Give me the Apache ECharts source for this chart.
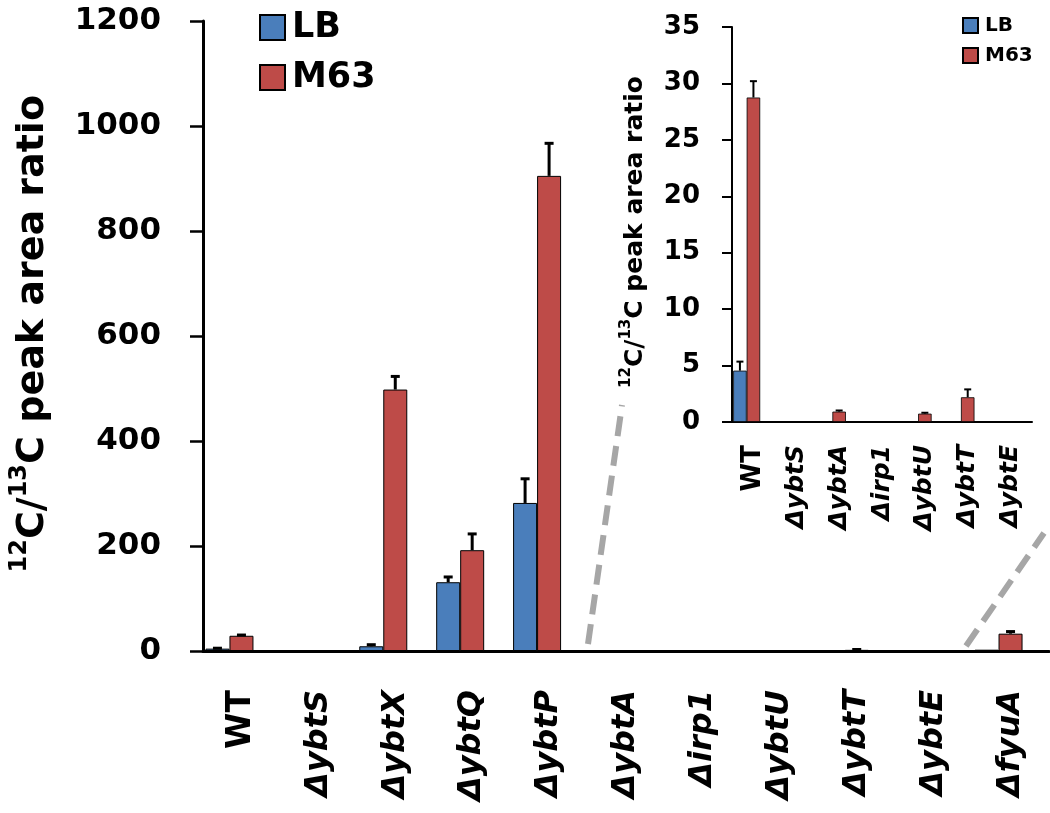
<!DOCTYPE html>
<html>
<head>
<meta charset="utf-8">
<script src="https://cdn.jsdelivr.net/npm/echarts@6/dist/echarts.min.js"></script>
<style>html,body{margin:0;padding:0;background:#fff}#c{width:1050px;height:813px}</style>
</head>
<body>
<div id="c"></div>
<script>
// ---- main chart data ----
const categories = ['WT','ΔybtS','ΔybtX','ΔybtQ','ΔybtP','ΔybtA','Δirp1','ΔybtU','ΔybtT','ΔybtE','ΔfyuA'];
const lbValues   = [4.5, 0, 9, 131, 282, 0, 0, 0, 0, 0, 2.5];
const lbErrors   = [0.8, 0, 3, 10, 46, 0, 0, 0, 0, 0, 0];
const m63Values  = [29, 0, 498, 192, 905, 0.9, 0, 0.7, 2.2, 0, 33];
const m63Errors  = [1.4, 0, 25, 31, 62, 0, 0, 0, 0.7, 0, 4];
const yTicks     = [0, 200, 400, 600, 800, 1000, 1200];

// ---- inset data ----
const insetCategories = ['WT','ΔybtS','ΔybtA','Δirp1','ΔybtU','ΔybtT','ΔybtE'];
const insetLbValues   = [4.55, 0, 0, 0, 0, 0, 0];
const insetLbErrors   = [0.8, 0, 0, 0, 0, 0, 0];
const insetM63Values  = [28.75, 0, 0.92, 0, 0.74, 2.19, 0];
const insetM63Errors  = [1.45, 0, 0.1, 0, 0.08, 0.7, 0];
const insetYTicks     = [0, 5, 10, 15, 20, 25, 30, 35];

const BLUE = '#4A7EBB', RED = '#BE4B48';
const FONT = 'DejaVu Sans';
const BW = 24, BW2 = 13.5;

function errData(vals, errs){ return vals.map((v,i)=>[i, v, errs[i]]); }
function errRender(offsetMul, bw, lw, capW){
  return function(params, api){
    const e = api.value(2);
    if (!e) return null;
    const i = api.value(0), v = api.value(1);
    const base = api.coord([i, v]);
    const top = api.coord([i, v + e]);
    const x = base[0] + offsetMul * bw;
    return {type:'group', children:[
      {type:'line', shape:{x1:x, y1:base[1], x2:x, y2:top[1]}, style:{stroke:'#000', lineWidth:lw}},
      {type:'line', shape:{x1:x-capW/2, y1:top[1], x2:x+capW/2, y2:top[1]}, style:{stroke:'#000', lineWidth:lw}}
    ]};
  };
}
function xLabelFmt(v){ return v === 'WT' ? '{n|WT}' : '{i|' + v + '}'; }
function yLabelFmt(v){ return String(v); }

const chart = echarts.init(document.getElementById('c'), null, {renderer:'canvas'});
const option = {
  animation:false,
  backgroundColor:'#fff',
  textStyle:{fontFamily:FONT},
  grid:[
    {left:203, top:21, right:1, bottom:162},
    {left:732, top:27, right:18, bottom:391}
  ],
  legend:[
    {data:['LB','M63'], orient:'vertical', left:254, top:5, itemWidth:25, itemHeight:25, itemGap:15,
     icon:'rect', selectedMode:false,
     textStyle:{fontFamily:FONT, fontWeight:'bold', fontSize:35, lineHeight:35, color:'#000', padding:[0,0,0,2]}},
    {data:['LB','M63'], orient:'vertical', left:957, top:10.5, itemWidth:15, itemHeight:15, itemGap:10,
     icon:'rect', selectedMode:false,
     textStyle:{fontFamily:FONT, fontWeight:'bold', fontSize:20, lineHeight:20, color:'#000', padding:[0,0,0,2]}}
  ],
  xAxis:[
    {type:'category', gridIndex:0, data:categories,
     axisLine:{lineStyle:{color:'#000', width:3}},
     axisTick:{length:14, lineStyle:{color:'#000', width:2.5}},
     axisLabel:{interval:0, rotate:90, margin:39, formatter:xLabelFmt, color:'#000',
       rich:{n:{fontFamily:FONT, fontWeight:'bold', fontSize:33, color:'#000'},
             i:{fontFamily:FONT, fontWeight:'bold', fontStyle:'italic', fontSize:32, color:'#000'}}}},
    {type:'category', gridIndex:1, data:insetCategories,
     axisLine:{lineStyle:{color:'#000', width:2}},
     axisTick:{length:10, lineStyle:{color:'#000', width:2}},
     axisLabel:{interval:0, rotate:90, margin:23, formatter:xLabelFmt, color:'#000',
       rich:{n:{fontFamily:FONT, fontWeight:'bold', fontSize:26, color:'#000'},
             i:{fontFamily:FONT, fontWeight:'bold', fontStyle:'italic', fontSize:25, color:'#000'}}}}
  ],
  yAxis:[
    {type:'value', gridIndex:0, min:yTicks[0], max:yTicks[yTicks.length-1], interval:yTicks[1]-yTicks[0],
     splitLine:{show:false},
     axisLine:{show:true, lineStyle:{color:'#000', width:3}},
     axisTick:{show:true, length:13, lineStyle:{color:'#000', width:2.5}},
     axisLabel:{margin:42, color:'#000', fontFamily:FONT, fontWeight:'bold', fontSize:31, formatter:yLabelFmt}},
    {type:'value', gridIndex:1, min:insetYTicks[0], max:insetYTicks[insetYTicks.length-1], interval:insetYTicks[1]-insetYTicks[0],
     splitLine:{show:false},
     axisLine:{show:true, lineStyle:{color:'#000', width:2}},
     axisTick:{show:true, length:10, lineStyle:{color:'#000', width:2}},
     axisLabel:{margin:32, color:'#000', fontFamily:FONT, fontWeight:'bold', fontSize:26, formatter:yLabelFmt}}
  ],
  graphic:[
    {type:'text', left:8, top:95, rotation:Math.PI/2, z:10,
     style:{text:'{s|12}{m|C/}{s|13}{m|C peak area ratio}', fill:'#000',
       rich:{m:{fontFamily:FONT, fontWeight:'bold', fontSize:38, lineHeight:44, verticalAlign:'bottom'},
             s:{fontFamily:FONT, fontWeight:'bold', fontSize:24, lineHeight:44, verticalAlign:'top'}}}},
    {type:'text', left:619, top:76, rotation:Math.PI/2, z:10,
     style:{text:'{s|12}{m|C/}{s|13}{m|C peak area ratio}', fill:'#000',
       rich:{m:{fontFamily:FONT, fontWeight:'bold', fontSize:25, lineHeight:29, verticalAlign:'bottom'},
             s:{fontFamily:FONT, fontWeight:'bold', fontSize:15, lineHeight:29, verticalAlign:'top'}}}},
    {type:'line', shape:{x1:588, y1:644, x2:622, y2:405}, z:1,
     style:{stroke:'#A6A6A6', lineWidth:6, lineDash:[20,10]}},
    {type:'line', shape:{x1:966, y1:646, x2:1044, y2:533}, z:1,
     style:{stroke:'#A6A6A6', lineWidth:6, lineDash:[20,10]}}
  ],
  series:[
    {name:'LB', type:'bar', xAxisIndex:0, yAxisIndex:0, data:lbValues, barWidth:BW, barGap:'0%',
     itemStyle:{color:BLUE, borderColor:'#000', borderWidth:1}},
    {name:'M63', type:'bar', xAxisIndex:0, yAxisIndex:0, data:m63Values, barWidth:BW, barGap:'0%',
     itemStyle:{color:RED, borderColor:'#000', borderWidth:1}},
    {name:'_pad', type:'bar', xAxisIndex:0, yAxisIndex:0, data:categories.map(()=>'-'), barWidth:BW, barGap:'0%'},
    {type:'custom', xAxisIndex:0, yAxisIndex:0, data:errData(lbValues, lbErrors), renderItem:errRender(-1, BW, 3, 9), z:5},
    {type:'custom', xAxisIndex:0, yAxisIndex:0, data:errData(m63Values, m63Errors), renderItem:errRender(0, BW, 3, 9), z:5},

    {name:'LB', type:'bar', xAxisIndex:1, yAxisIndex:1, data:insetLbValues, barWidth:BW2, barGap:'0%',
     itemStyle:{color:BLUE, borderColor:'#000', borderWidth:0.8}},
    {name:'M63', type:'bar', xAxisIndex:1, yAxisIndex:1, data:insetM63Values, barWidth:BW2, barGap:'0%',
     itemStyle:{color:RED, borderColor:'#000', borderWidth:0.8}},
    {name:'_pad2', type:'bar', xAxisIndex:1, yAxisIndex:1, data:insetCategories.map(()=>'-'), barWidth:BW2, barGap:'0%'},
    {type:'custom', xAxisIndex:1, yAxisIndex:1, data:errData(insetLbValues, insetLbErrors), renderItem:errRender(-1, BW2, 2, 7), z:5},
    {type:'custom', xAxisIndex:1, yAxisIndex:1, data:errData(insetM63Values, insetM63Errors), renderItem:errRender(0, BW2, 2, 7), z:5}
  ]
};
chart.setOption(option);
</script>
</body>
</html>
